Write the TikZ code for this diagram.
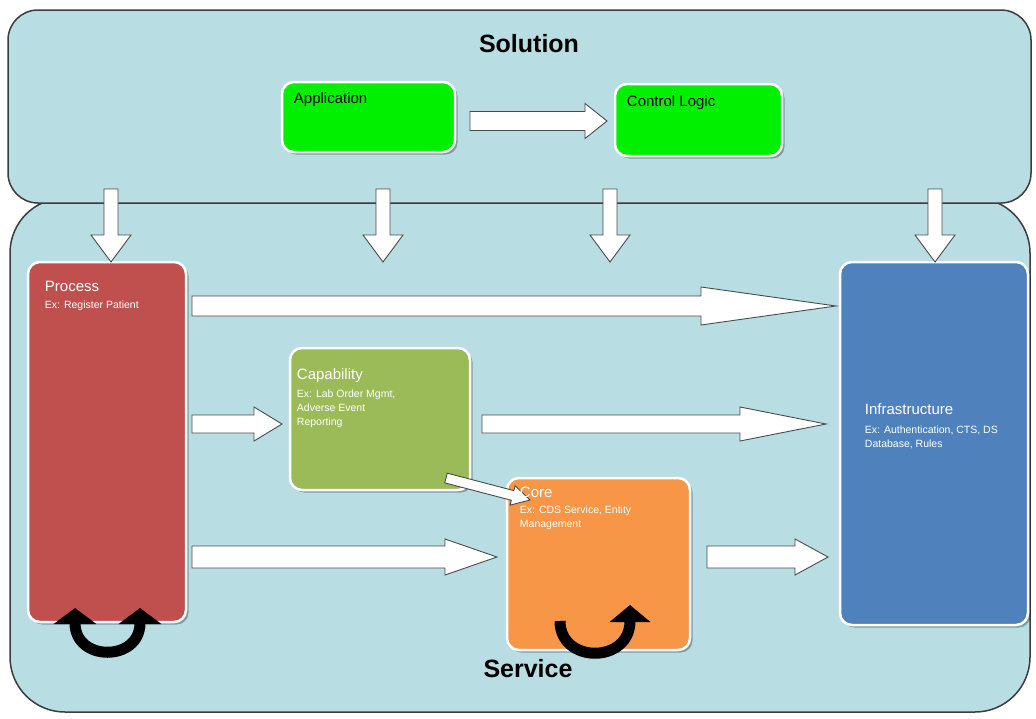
\documentclass[tikz,border=0pt]{standalone}
\usepackage{fontspec}
\setmainfont{Liberation Sans}
\usetikzlibrary{calc,shadows,arrows.meta}

\definecolor{panel}{HTML}{B8DEE3}
\definecolor{panelline}{HTML}{3C3C3C}
\definecolor{procred}{HTML}{C0504D}
\definecolor{capgreen}{HTML}{9BBB59}
\definecolor{coreorange}{HTML}{F79646}
\definecolor{infrablue}{HTML}{4F81BD}
\definecolor{brightgreen}{HTML}{00F000}
\definecolor{arrowline}{HTML}{4A4A4A}

% Hollow block arrow from #1 to #2: shaft half-width #3, head half-width #4, head length #5
\newcommand\blockarrow[5]{%
  \draw[blockarr] let \p1=(#1), \p2=(#2),
      \n1={veclen(\x2-\x1,\y2-\y1)},
      \n2={(\x2-\x1)/\n1}, \n3={(\y2-\y1)/\n1},
      \n4={\n1-#5} in
    ({\x1+#3*\n3},{\y1-#3*\n2})
    -- ({\x1+\n4*\n2+#3*\n3},{\y1+\n4*\n3-#3*\n2})
    -- ({\x1+\n4*\n2+#4*\n3},{\y1+\n4*\n3-#4*\n2})
    -- (\x2,\y2)
    -- ({\x1+\n4*\n2-#4*\n3},{\y1+\n4*\n3+#4*\n2})
    -- ({\x1+\n4*\n2-#3*\n3},{\y1+\n4*\n3+#3*\n2})
    -- ({\x1-#3*\n3},{\y1+#3*\n2})
    -- cycle;}

\begin{document}
\begin{tikzpicture}[x=1pt,y=-1pt,
  layer/.style={draw=panelline, line width=1.5pt, fill=panel, inner sep=0pt},
  box/.style={draw=white, line width=2.5pt, rounded corners=12pt, inner sep=0pt,
    drop shadow={shadow xshift=2.5pt, shadow yshift=-2.5pt, fill=black, opacity=0.3}},
  heading/.style={inner sep=0pt, font=\bfseries\fontsize{25}{30}\selectfont, text=black},
  title/.style={anchor=north west, inner sep=0pt, font=\fontsize{15}{18}\selectfont, text=white},
  note/.style={anchor=north west, inner sep=0pt, align=left, font=\fontsize{10.5}{14}\selectfont, text=white},
  blockarr/.style={draw=arrowline, fill=white, line width=0.9pt, line join=miter},
  loopline/.style={line width=11pt, black}]

\useasboundingbox[fill=white] (0,0) rectangle (1036,718);

% the two layers
\node[layer, rounded corners=55pt, minimum width=1020, minimum height=514] (service) at (520,455) {};
\node[layer, rounded corners=30pt, minimum width=1023, minimum height=193] (solution) at (519.5,106.5) {};
\node[heading] (soltext) at (529,44) {Solution};
\node[heading] (sertext) at (528,669) {Service};

% solution components
\node[box, fill=brightgreen, minimum width=173, minimum height=70] (app) at (368.5,117) {};
\node[box, fill=brightgreen, minimum width=167, minimum height=72] (ctl) at (698.5,120) {};
\node[title, text=black] (apptext) at ([shift={(13,12)}]app.north west) {Application};
\node[title, text=black] (ctltext) at ([shift={(13,13)}]ctl.north west) {Control Logic};

\coordinate (acs) at (470,121);
\coordinate (ace) at (607,121);
\blockarrow{acs}{ace}{9.5}{17.5}{22}

% service components
\node[box, fill=procred, minimum width=158, minimum height=360] (proc) at (107,442) {};
\node[box, fill=capgreen, minimum width=180, minimum height=142] (cap) at (380,419) {};
\node[box, fill=coreorange, minimum width=183, minimum height=172] (core) at (598.5,564) {};
\node[box, fill=infrablue, minimum width=188, minimum height=363] (infra) at (934,443.5) {};

% arrows from the solution layer down into the service layer
\foreach \i/\x in {1/111, 2/383, 3/610, 4/935} {
  \coordinate (down\i s) at (\x,189);
  \coordinate (down\i e) at (\x,262);
  \blockarrow{down\i s}{down\i e}{7}{20}{27}
}

% arrows between service components
\coordinate (pis) at (192,306);  \coordinate (pie) at (836,306);
\blockarrow{pis}{pie}{10}{19}{135}
\coordinate (pcs) at (192,424);  \coordinate (pce) at (282,424);
\blockarrow{pcs}{pce}{9}{17}{28}
\coordinate (cis) at (482,424);  \coordinate (cie) at (826,424);
\blockarrow{cis}{cie}{9}{17}{86}
\coordinate (pos) at (192,557);  \coordinate (poe) at (497,557);
\blockarrow{pos}{poe}{11}{18}{52}
\coordinate (ois) at (707,557);  \coordinate (oie) at (828,557);
\blockarrow{ois}{oie}{11}{18}{33}
\coordinate (ccs) at (446,478);  \coordinate (cce) at (530,500);
\blockarrow{ccs}{cce}{5}{10}{18}

% component texts
\node[title] (proctitle) at ([shift={(18,20)}]proc.north west) {Process};
\node[note] (procnote) at ([shift={(18,40)}]proc.north west) {Ex: Register Patient};
\node[title] (captitle) at ([shift={(8,22)}]cap.north west) {Capability};
\node[note] (capnote) at ([shift={(8,43)}]cap.north west) {Ex: Lab Order Mgmt,\\Adverse Event\\Reporting};
\node[title] (coretitle) at ([shift={(14,10)}]core.north west) {Core};
\node[note] (corenote) at ([shift={(14,29)}]core.north west) {Ex: CDS Service, Entity\\Management};
\node[title] (infratitle) at ([shift={(26,143)}]infra.north west) {Infrastructure};
\node[note] (infranote) at ([shift={(26,165)}]infra.north west) {Ex: Authentication, CTS, DS\\Database, Rules};

% self loops
\coordinate (pl1) at (75,608);
\coordinate (pl2) at (140,608);
\draw[loopline, {Triangle[width=42pt,length=16pt]}-{Triangle[width=42pt,length=16pt]}]
  (pl1) .. controls (75,662) and (140,662) .. (pl2);
\coordinate (cl1) at (560,621);
\coordinate (cl2) at (630,605);
\draw[loopline, -{Triangle[width=40pt,length=17pt]}]
  (cl1) .. controls (560,664) and (630,664) .. (cl2);

\end{tikzpicture}
\end{document}
